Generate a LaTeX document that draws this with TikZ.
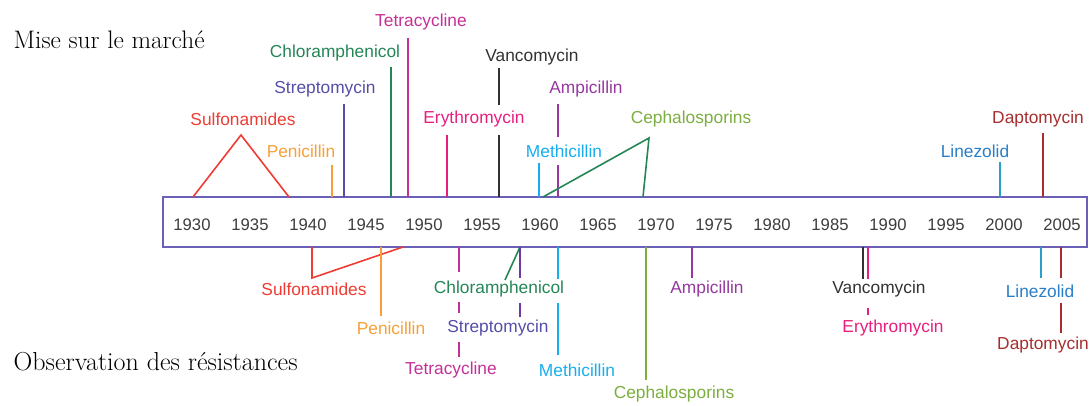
\documentclass[tikz,border=0pt]{standalone}
\usepackage{fontspec}
\newfontfamily\drugfont{Liberation Sans}
\usepackage{tikz}

\definecolor{sulfa}{RGB}{238,60,52}
\definecolor{peni}{RGB}{247,160,56}
\definecolor{strepto}{RGB}{84,78,168}
\definecolor{streptoline}{RGB}{112,56,160}
\definecolor{chloram}{RGB}{36,134,86}
\definecolor{tetra}{RGB}{196,48,150}
\definecolor{erythro}{RGB}{232,30,126}
\definecolor{vanco}{RGB}{50,50,50}
\definecolor{ampi}{RGB}{150,56,160}
\definecolor{methi}{RGB}{24,174,236}
\definecolor{cephalo}{RGB}{124,174,64}
\definecolor{linezo}{RGB}{40,126,200}
\definecolor{linezoline}{RGB}{40,160,200}
\definecolor{dapto}{RGB}{166,46,46}
\definecolor{boxblue}{RGB}{106,96,184}
\definecolor{yeargray}{RGB}{60,60,60}

\begin{document}
\begin{tikzpicture}[x=0.75pt,y=-0.75pt]
\useasboundingbox (0,0) rectangle (1090,406);
\draw[draw=boxblue,line width=1.5pt] (163,197) coordinate (box_nw) rectangle (1087,247) coordinate (box_se);

\node[anchor=west,font=\fontsize{19}{22}\selectfont] (mise) at (9,40) {Mise sur le marché};
\node[anchor=west,font=\fontsize{19.5}{22}\selectfont] (obs) at (9,362) {Observation des résistances};

\begin{scope}[every node/.style={font=\drugfont\fontsize{12.5}{14}\selectfont,text=yeargray,inner sep=0pt}]
    \node (y1930) at (192,225) {1930};
    \node (y1935) at (250,225) {1935};
    \node (y1940) at (308,225) {1940};
    \node (y1945) at (366,225) {1945};
    \node (y1950) at (424,225) {1950};
    \node (y1955) at (482,225) {1955};
    \node (y1960) at (540,225) {1960};
    \node (y1965) at (598,225) {1965};
    \node (y1970) at (656,225) {1970};
    \node (y1975) at (714,225) {1975};
    \node (y1980) at (772,225) {1980};
    \node (y1985) at (830,225) {1985};
    \node (y1990) at (888,225) {1990};
    \node (y1995) at (946,225) {1995};
    \node (y2000) at (1004,225) {2000};
    \node (y2005) at (1062,225) {2005};
\end{scope}

% mise sur le marche
\begin{scope}[every node/.style={font=\drugfont\fontsize{13}{15}\selectfont,inner sep=0pt}]
    \node[text=sulfa] (sulfa_t) at (243,119) {Sulfonamides};
    \node[text=peni] (peni_t) at (301,151) {Penicillin};
    \node[text=strepto] (strepto_t) at (325,89) {Streptomycin};
    \node[text=chloram] (chloram_t) at (335,53) {Chloramphenicol};
    \node[text=tetra] (tetra_t) at (421,22) {Tetracycline};
    \node[text=erythro] (erythro_t) at (474,119) {Erythromycin};
    \node[text=vanco] (vanco_t) at (532,57) {Vancomycin};
    \node[text=ampi] (ampi_t) at (586,89) {Ampicillin};
    \node[text=methi] (methi_t) at (564,151) {Methicillin};
    \node[text=cephalo] (cephalo_t) at (691,119) {Cephalosporins};
    \node[text=linezo] (linezo_t) at (975,151) {Linezolid};
    \node[text=dapto] (dapto_t) at (1038,119) {Daptomycin};
\end{scope}

% resistances
\begin{scope}[every node/.style={font=\drugfont\fontsize{13}{15}\selectfont,inner sep=0pt}]
    \node[text=sulfa] (sulfa_b) at (314,289) {Sulfonamides};
    \node[text=peni] (peni_b) at (391,328) {Penicillin};
    \node[text=tetra] (tetra_b) at (451,370) {Tetracycline};
    \node[text=chloram] (chloram_b) at (499,289) {Chloramphenicol};
    \node[text=strepto] (strepto_b) at (498,328) {Streptomycin};
    \node[text=methi] (methi_b) at (577,370) {Methicillin};
    \node[text=cephalo] (cephalo_b) at (674,394) {Cephalosporins};
    \node[text=ampi] (ampi_b) at (707,289) {Ampicillin};
    \node[text=vanco] (vanco_b) at (879,289) {Vancomycin};
    \node[text=erythro] (erythro_b) at (893,328) {Erythromycin};
    \node[text=linezo] (linezo_b) at (1040,291) {Linezolid};
    \node[text=dapto] (dapto_b) at (1043,345) {Daptomycin};
\end{scope}

\begin{scope}[line width=1.2pt]
    % top
    \coordinate (sulfa_apex) at (241,135);
    \draw[sulfa] (193,197 |- box_nw) -- (sulfa_apex) -- (289,197 |- box_nw);
    \coordinate (peni_1) at (332,165);
    \draw[peni] (peni_1) -- (peni_1 |- box_nw);
    \coordinate (strepto_1) at (344,104);
    \draw[strepto] (strepto_1) -- (strepto_1 |- box_nw);
    \coordinate (chloram_1) at (391,67);
    \draw[chloram] (chloram_1) -- (chloram_1 |- box_nw);
    \coordinate (tetra_1) at (408,38);
    \draw[tetra] (tetra_1) -- (tetra_1 |- box_nw);
    \coordinate (erythro_1) at (447,135);
    \draw[erythro] (erythro_1) -- (erythro_1 |- box_nw);
    \coordinate (vanco_1) at (499,68);
    \coordinate (vanco_2) at (499,105);
    \coordinate (vanco_3) at (499,135);
    \draw[vanco] (vanco_1) -- (vanco_2) (vanco_3) -- (vanco_3 |- box_nw);
    \coordinate (ampi_1) at (558,104);
    \coordinate (ampi_2) at (558,137);
    \coordinate (ampi_3) at (558,165);
    \draw[ampi] (ampi_1) -- (ampi_2) (ampi_3) -- (ampi_3 |- box_nw);
    \coordinate (methi_1) at (539,163);
    \draw[methi] (methi_1) -- (methi_1 |- box_nw);
    \coordinate (cephalo_apex) at (649,138);
    \draw[chloram] (543,197 |- box_nw) -- (cephalo_apex) -- (643,197 |- box_nw);
    \coordinate (linezo_1) at (1000,162);
    \draw[linezoline] (linezo_1) -- (linezo_1 |- box_nw);
    \coordinate (dapto_1) at (1043,133);
    \draw[dapto] (dapto_1) -- (dapto_1 |- box_nw);

    % bottom
    \coordinate (sulfa_low) at (312,278);
    \draw[sulfa] (sulfa_low |- box_se) -- (sulfa_low) -- (403,247 |- box_se);
    \coordinate (peni_b1) at (381,316);
    \draw[peni] (peni_b1 |- box_se) -- (peni_b1);
    \coordinate (tetra_b1) at (459,272);
    \coordinate (tetra_b2) at (459,302);
    \coordinate (tetra_b3) at (459,313);
    \coordinate (tetra_b4) at (459,342);
    \coordinate (tetra_b5) at (459,357);
    \draw[tetra] (tetra_b1 |- box_se) -- (tetra_b1) (tetra_b2) -- (tetra_b3) (tetra_b4) -- (tetra_b5);
    \coordinate (chloram_b1) at (505,280);
    \draw[chloram] (520,247 |- box_se) -- (chloram_b1);
    \coordinate (strepto_b1) at (520,278);
    \coordinate (strepto_b2) at (520,303);
    \coordinate (strepto_b3) at (520,317);
    \draw[streptoline] (strepto_b1 |- box_se) -- (strepto_b1) (strepto_b2) -- (strepto_b3);
    \coordinate (methi_b1) at (558,279);
    \coordinate (methi_b2) at (558,303);
    \coordinate (methi_b3) at (558,355);
    \draw[methi] (methi_b1 |- box_se) -- (methi_b1) (methi_b2) -- (methi_b3);
    \coordinate (cephalo_b1) at (646,380);
    \draw[cephalo] (cephalo_b1 |- box_se) -- (cephalo_b1);
    \coordinate (ampi_b1) at (692,278);
    \draw[ampi] (ampi_b1 |- box_se) -- (ampi_b1);
    \coordinate (vanco_b1) at (863,279);
    \draw[vanco] (vanco_b1 |- box_se) -- (vanco_b1);
    \coordinate (erythro_b1) at (868,279);
    \coordinate (erythro_b2) at (868,308);
    \coordinate (erythro_b3) at (868,315);
    \draw[erythro] (erythro_b1 |- box_se) -- (erythro_b1) (erythro_b2) -- (erythro_b3);
    \coordinate (linezo_b1) at (1041,278);
    \draw[linezoline] (linezo_b1 |- box_se) -- (linezo_b1);
    \coordinate (dapto_b1) at (1061,278);
    \coordinate (dapto_b2) at (1061,303);
    \coordinate (dapto_b3) at (1061,333);
    \draw[dapto] (dapto_b1 |- box_se) -- (dapto_b1) (dapto_b2) -- (dapto_b3);
\end{scope}
\end{tikzpicture}
\end{document}
